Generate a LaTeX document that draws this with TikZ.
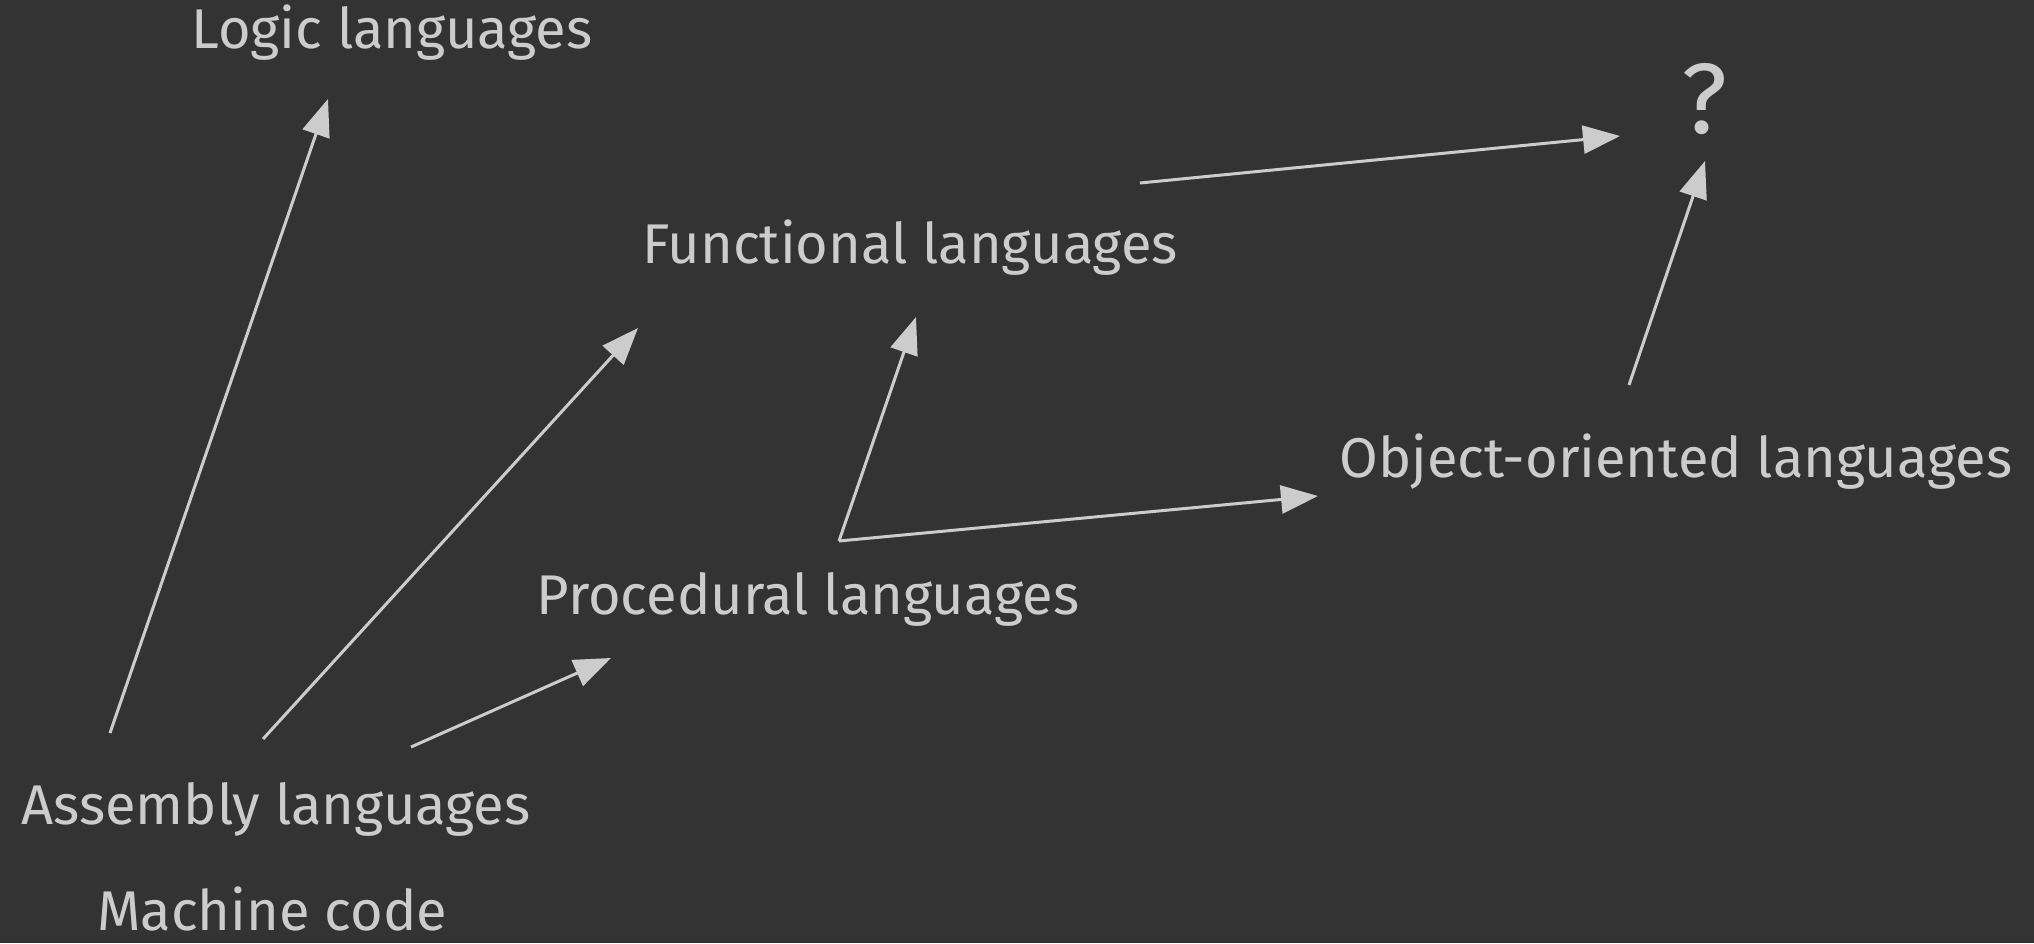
\documentclass[tikz,border=0pt]{standalone}
\usepackage{fontspec}
\setmainfont{Fira Sans}
\usetikzlibrary{arrows.meta}
\definecolor{bg}{HTML}{333333}
\definecolor{fg}{HTML}{CCCCCC}
\begin{document}
\begin{tikzpicture}[x=1pt,y=-1pt,
  lbl/.style={text=fg, font=\fontsize{56}{64}\selectfont, inner sep=0pt, anchor=base},
  conn/.style={draw=fg, line width=3pt, -{Triangle[length=37pt,width=28pt]}}]
\fill[bg] (0,0) rectangle (2034,943);
\useasboundingbox (0,0) rectangle (2034,943);
% labels
\node[lbl] (logic) at (392,48) {Logic languages};
\node[lbl] (func) at (910,263) {Functional languages};
\node[lbl] (proc) at (808,614) {Procedural languages};
\node[lbl] (oo) at (1676,477) {Object-oriented languages};
\node[lbl] (asm) at (276,824) {Assembly languages};
\node[lbl] (mach) at (272,930) {Machine code};
\node[lbl, font=\fontsize{100}{110}\selectfont] (q) at (1704,133) {?};
% connector ends
\coordinate (asmA) at (110,733);
\coordinate (asmB) at (263,739);
\coordinate (asmC) at (411,747);
\coordinate (logicIn) at (328,99);
\coordinate (funcInA) at (638,328);
\coordinate (procIn) at (611,658);
\coordinate (procOut) at (839,541);
\coordinate (funcInB) at (916,317);
\coordinate (ooIn) at (1318,496);
\coordinate (funcOut) at (1140,183);
\coordinate (qInA) at (1620,136);
\coordinate (ooOut) at (1629,385);
\coordinate (qInB) at (1705,161);
% connectors
\draw[conn] (asmA) -- (logicIn);
\draw[conn] (asmB) -- (funcInA);
\draw[conn] (asmC) -- (procIn);
\draw[conn] (procOut) -- (funcInB);
\draw[conn] (procOut) -- (ooIn);
\draw[conn] (funcOut) -- (qInA);
\draw[conn] (ooOut) -- (qInB);
\end{tikzpicture}
\end{document}
